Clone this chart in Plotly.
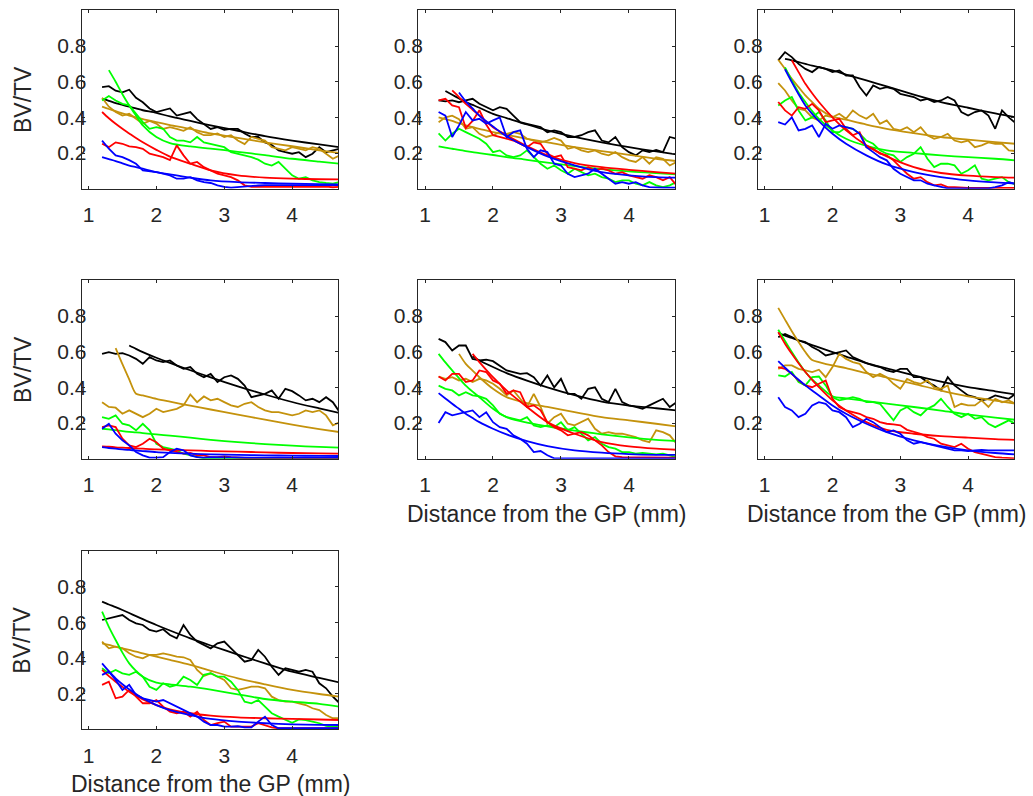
import plotly.graph_objects as go

# ---------------- data ----------------
X = [1.2, 1.3, 1.4, 1.5, 1.6, 1.7, 1.8, 1.9, 2.0, 2.1, 2.2, 2.3, 2.4, 2.5, 2.6, 2.7, 2.8, 2.9,
     3.0, 3.1, 3.2, 3.3, 3.4, 3.5, 3.6, 3.7, 3.8, 3.9, 4.0, 4.1, 4.2, 4.3, 4.4, 4.5, 4.6, 4.7]
FX = [1.2, 1.3, 1.4, 1.5, 1.6, 1.7, 1.8, 2.0, 2.2, 2.5, 2.8, 3.2, 3.6, 4.0, 4.4, 4.7]
X_TICKS = [1, 2, 3, 4]
Y_TICKS = [0.2, 0.4, 0.6, 0.8]
Y_LABEL = "BV/TV"
X_LABEL = "Distance from the GP (mm)"

# panel 1
P1_BLACK = [0.57, 0.575, 0.55, 0.54, 0.555, 0.51, 0.485, 0.45, 0.43, 0.44, 0.45, 0.41, 0.42, 0.43, 0.39, 0.365, 0.335, 0.345,
            0.33, 0.335, 0.335, 0.31, 0.29, 0.29, 0.26, 0.245, 0.215, 0.205, 0.196, 0.205, 0.177, 0.196, 0.233, 0.205, 0.215, 0.224]
P1_GOLD = [0.51, 0.46, 0.43, 0.41, 0.42, 0.39, 0.365, 0.38, 0.365, 0.335, 0.345, 0.335, 0.325, 0.345, 0.317, 0.3, 0.3, 0.31,
           0.29, 0.3, 0.27, 0.25, 0.29, 0.28, 0.27, 0.233, 0.224, 0.215, 0.233, 0.224, 0.215, 0.233, 0.224, 0.196, 0.168, 0.187]
P1_GREEN = [0.495, 0.52, 0.495, 0.476, 0.467, 0.42, 0.373, 0.336, 0.345, 0.336, 0.29, 0.27, 0.27, 0.26, 0.29, 0.26, 0.25, 0.243,
            0.233, 0.205, 0.196, 0.187, 0.177, 0.163, 0.14, 0.13, 0.15, 0.112, 0.075, 0.056, 0.065, 0.047, 0.037, 0.032, 0.028, 0.037]
P1_RED = [0.252, 0.233, 0.26, 0.252, 0.237, 0.233, 0.224, 0.196, 0.187, 0.177, 0.16, 0.243, 0.187, 0.14, 0.15, 0.121, 0.103, 0.084,
          0.075, 0.065, 0.047, 0.019, 0.01, 0.01, 0.008, 0.01, 0.008, 0.006, 0.008, 0.01, 0.008, 0.006, 0.01, 0.012, 0.008, 0.01]
P1_BLUE = [0.27, 0.224, 0.187, 0.177, 0.16, 0.14, 0.103, 0.1, 0.093, 0.084, 0.075, 0.056, 0.056, 0.065, 0.047, 0.037, 0.032, 0.019,
           0.01, 0.006, 0.01, 0.012, 0.015, 0.018, 0.02, 0.02, 0.02, 0.022, 0.02, 0.02, 0.022, 0.02, 0.02, 0.02, 0.022, 0.02]
P1_BLACK_FIT = [0.505, 0.493, 0.48, 0.47, 0.46, 0.45, 0.44, 0.425, 0.405, 0.38, 0.355, 0.325, 0.295, 0.27, 0.248, 0.233]
P1_GOLD_FIT = [0.46, 0.447, 0.435, 0.422, 0.41, 0.4, 0.39, 0.373, 0.357, 0.335, 0.31, 0.285, 0.26, 0.238, 0.215, 0.2]
P1_GREEN_FIT = [None, 0.665, 0.6, 0.53, 0.467, 0.41, 0.355, 0.29, 0.256, 0.237, 0.225, 0.207, 0.188, 0.168, 0.152, 0.14]
P1_RED_FIT = [0.43, 0.395, 0.364, 0.336, 0.31, 0.284, 0.26, 0.218, 0.18, 0.14, 0.103, 0.075, 0.062, 0.056, 0.053, 0.052]
P1_BLUE_FIT = [0.177, 0.166, 0.155, 0.142, 0.13, 0.121, 0.112, 0.093, 0.08, 0.062, 0.047, 0.037, 0.032, 0.028, 0.026, 0.024]

# panel 2
P2_BLACK = [0.495, 0.49, 0.495, 0.485, 0.495, 0.504, 0.476, 0.457, 0.44, 0.457, 0.448, 0.41, 0.373, 0.364, 0.355, 0.345, 0.317, 0.327,
            0.317, 0.29, 0.29, 0.3, 0.317, 0.327, 0.27, 0.26, 0.29, 0.233, 0.205, 0.187, 0.215, 0.205, 0.218, 0.205, 0.29, 0.28]
P2_GOLD = [0.373, 0.4, 0.41, 0.39, 0.336, 0.345, 0.308, 0.29, 0.3, 0.317, 0.308, 0.317, 0.308, 0.28, 0.27, 0.26, 0.27, 0.285,
           0.27, 0.224, 0.233, 0.215, 0.205, 0.215, 0.196, 0.187, 0.205, 0.177, 0.159, 0.15, 0.177, 0.14, 0.177, 0.168, 0.13, 0.15]
P2_GREEN = [0.31, 0.27, 0.308, 0.336, 0.317, 0.3, 0.28, 0.252, 0.205, 0.215, 0.187, 0.177, 0.187, 0.215, 0.177, 0.14, 0.112, 0.13,
            0.103, 0.084, 0.112, 0.093, 0.075, 0.084, 0.065, 0.056, 0.037, 0.047, 0.047, 0.028, 0.019, 0.037, 0.019, 0.009, 0.019, 0.037]
P2_RED = [0.495, 0.504, 0.467, 0.457, 0.34, 0.38, 0.44, 0.36, 0.3, 0.29, 0.28, 0.27, 0.252, 0.233, 0.26, 0.252, 0.196, 0.177,
          0.187, 0.121, 0.112, 0.103, 0.121, 0.103, 0.112, 0.103, 0.084, 0.093, 0.075, 0.065, 0.056, 0.075, 0.065, 0.047, 0.065, 0.019]
P2_BLUE = [0.43, 0.41, 0.29, 0.355, 0.43, 0.383, 0.392, 0.364, 0.383, 0.4, 0.29, 0.317, 0.327, 0.224, 0.177, 0.215, 0.205, 0.14,
           0.13, 0.084, 0.065, 0.075, 0.084, 0.112, 0.084, 0.056, 0.028, 0.037, 0.028, 0.037, 0.019, 0.009, 0.006, 0.006, 0.006, 0.006]
P2_BLACK_FIT = [None, 0.548, 0.527, 0.506, 0.486, 0.47, 0.454, 0.42, 0.396, 0.36, 0.327, 0.29, 0.26, 0.233, 0.209, 0.192]
P2_GOLD_FIT = [0.4, 0.39, 0.38, 0.367, 0.355, 0.345, 0.336, 0.317, 0.302, 0.28, 0.26, 0.233, 0.211, 0.19, 0.168, 0.155]
P2_GREEN_FIT = [0.237, 0.23, 0.224, 0.218, 0.211, 0.205, 0.2, 0.189, 0.177, 0.162, 0.146, 0.127, 0.11, 0.097, 0.088, 0.08]
P2_RED_FIT = [None, None, 0.551, 0.514, 0.476, 0.443, 0.41, 0.345, 0.3, 0.239, 0.187, 0.144, 0.121, 0.106, 0.093, 0.084]
P2_BLUE_FIT = [None, None, None, 0.54, 0.49, 0.45, 0.41, 0.349, 0.293, 0.233, 0.181, 0.131, 0.093, 0.075, 0.065, 0.062]

# panel 3
P3_BLACK = [0.72, 0.766, 0.738, 0.7, 0.672, 0.654, 0.682, 0.672, 0.654, 0.663, 0.635, 0.635, 0.57, 0.523, 0.579, 0.56, 0.57, 0.56,
            0.532, 0.523, 0.514, 0.495, 0.504, 0.486, 0.495, 0.514, 0.495, 0.43, 0.41, 0.43, 0.439, 0.41, 0.336, 0.439, 0.4, 0.368]
P3_GOLD = [0.592, 0.551, 0.495, 0.448, 0.439, 0.4, 0.383, 0.41, 0.4, 0.42, 0.392, 0.439, 0.41, 0.392, 0.42, 0.364, 0.383, 0.336,
           0.327, 0.345, 0.317, 0.345, 0.3, 0.28, 0.29, 0.308, 0.27, 0.26, 0.27, 0.233, 0.243, 0.26, 0.252, 0.252, 0.215, 0.211]
P3_GREEN = [0.467, 0.495, 0.514, 0.439, 0.383, 0.4, 0.43, 0.383, 0.317, 0.317, 0.345, 0.336, 0.308, 0.27, 0.252, 0.215, 0.196, 0.187,
            0.15, 0.177, 0.196, 0.233, 0.168, 0.121, 0.14, 0.14, 0.131, 0.084, 0.103, 0.131, 0.056, 0.047, 0.056, 0.065, 0.037, 0.024]
P3_RED = [0.486, 0.439, 0.41, 0.457, 0.448, 0.476, 0.439, 0.373, 0.383, 0.392, 0.336, 0.3, 0.317, 0.233, 0.224, 0.196, 0.187, 0.159,
          0.121, 0.084, 0.056, 0.065, 0.037, 0.019, 0.024, 0.009, 0.009, 0.006, 0.005, 0.005, 0.005, 0.005, 0.005, 0.005, 0.005, 0.005]
P3_BLUE = [0.373, 0.36, 0.4, 0.327, 0.336, 0.355, 0.29, 0.364, 0.336, 0.355, 0.345, 0.336, 0.308, 0.233, 0.205, 0.177, 0.159, 0.112,
           0.084, 0.065, 0.047, 0.047, 0.028, 0.019, 0.009, 0.002, 0.002, 0.002, 0.002, 0.002, 0.002, 0.002, 0.009, 0.019, 0.037, 0.028]
P3_BLACK_FIT = [None, 0.728, 0.72, 0.71, 0.7, 0.69, 0.682, 0.663, 0.64, 0.607, 0.574, 0.528, 0.486, 0.454, 0.422, 0.401]
P3_GOLD_FIT = [0.723, 0.672, 0.616, 0.57, 0.523, 0.486, 0.448, 0.405, 0.387, 0.36, 0.336, 0.312, 0.29, 0.275, 0.261, 0.252]
P3_GREEN_FIT = [None, 0.68, 0.607, 0.54, 0.486, 0.435, 0.392, 0.327, 0.28, 0.24, 0.215, 0.2, 0.187, 0.177, 0.168, 0.159]
P3_RED_FIT = [None, None, 0.72, 0.654, 0.588, 0.535, 0.486, 0.4, 0.327, 0.243, 0.181, 0.121, 0.088, 0.073, 0.065, 0.062]
P3_BLUE_FIT = [None, 0.67, 0.598, 0.53, 0.467, 0.42, 0.379, 0.308, 0.252, 0.187, 0.136, 0.093, 0.065, 0.047, 0.035, 0.028]

# panel 4
P4_BLACK = [0.588, 0.598, 0.588, 0.592, 0.579, 0.56, 0.532, 0.57, 0.551, 0.542, 0.551, 0.523, 0.504, 0.514, 0.476, 0.457, 0.476, 0.43,
            0.457, 0.467, 0.448, 0.41, 0.345, 0.355, 0.364, 0.383, 0.336, 0.392, 0.379, 0.355, 0.327, 0.336, 0.317, 0.345, 0.317, 0.261]
P4_GOLD = [0.317, 0.29, 0.286, 0.252, 0.271, 0.252, 0.233, 0.252, 0.28, 0.261, 0.271, 0.28, 0.299, 0.36, 0.317, 0.349, 0.327, 0.336,
           0.317, 0.299, 0.29, 0.308, 0.317, 0.29, 0.271, 0.261, 0.261, 0.252, 0.243, 0.252, 0.271, 0.261, 0.271, 0.243, 0.187, 0.205]
P4_GREEN = [0.233, 0.224, 0.243, 0.196, 0.187, 0.159, 0.196, 0.159, 0.084, 0.065, 0.056, 0.047, 0.028, 0.019, 0.009, 0.002, 0.002, 0.002,
            0.002, 0.002, 0.002, 0.002, 0.002, 0.002, 0.002, 0.002, 0.002, 0.002, 0.002, 0.002, 0.002, 0.002, 0.002, 0.002, 0.002, 0.002]
P4_RED = [0.177, 0.187, 0.177, 0.112, 0.075, 0.065, 0.084, 0.112, 0.093, 0.056, 0.047, 0.037, 0.028, 0.032, 0.019, 0.019, 0.009, 0.009,
          0.013, 0.009, 0.005, 0.005, 0.005, 0.005, 0.005, 0.005, 0.005, 0.005, 0.005, 0.005, 0.005, 0.005, 0.005, 0.005, 0.005, 0.005]
P4_BLUE = [0.168, 0.196, 0.14, 0.103, 0.075, 0.037, 0.019, 0.006, 0.006, 0.009, 0.037, 0.056, 0.047, 0.019, 0.009, 0.006, 0.009, 0.008,
           0.006, 0.006, 0.006, 0.006, 0.006, 0.006, 0.006, 0.006, 0.006, 0.006, 0.006, 0.006, 0.006, 0.006, 0.006, 0.006, 0.006, 0.006]
P4_BLACK_FIT = [None, None, None, None, 0.635, 0.616, 0.598, 0.566, 0.537, 0.496, 0.456, 0.406, 0.36, 0.318, 0.282, 0.256]
P4_GOLD_FIT = [None, None, 0.62, 0.53, 0.445, 0.364, 0.355, 0.336, 0.32, 0.297, 0.276, 0.247, 0.219, 0.191, 0.166, 0.149]
P4_GREEN_FIT = [0.168, 0.164, 0.16, 0.155, 0.151, 0.148, 0.144, 0.136, 0.129, 0.118, 0.106, 0.093, 0.082, 0.073, 0.066, 0.062]
P4_RED_FIT = [0.069, 0.067, 0.064, 0.062, 0.06, 0.058, 0.056, 0.052, 0.05, 0.047, 0.043, 0.04, 0.035, 0.032, 0.03, 0.028]
P4_BLUE_FIT = [0.065, 0.06, 0.056, 0.052, 0.049, 0.046, 0.043, 0.037, 0.033, 0.028, 0.024, 0.021, 0.019, 0.017, 0.016, 0.015]

# panel 5
P5_BLACK = [0.672, 0.654, 0.607, 0.635, 0.635, 0.56, 0.551, 0.555, 0.547, 0.523, 0.495, 0.486, 0.476, 0.48, 0.457, 0.41, 0.467, 0.4,
            0.448, 0.364, 0.364, 0.336, 0.392, 0.4, 0.336, 0.317, 0.392, 0.317, 0.299, 0.29, 0.28, 0.299, 0.317, 0.336, 0.29, 0.317]
P5_GOLD = [0.461, 0.448, 0.457, 0.439, 0.448, 0.43, 0.448, 0.439, 0.42, 0.392, 0.355, 0.383, 0.336, 0.29, 0.364, 0.29, 0.196, 0.233,
           0.252, 0.196, 0.187, 0.205, 0.224, 0.168, 0.14, 0.149, 0.14, 0.14, 0.131, 0.121, 0.103, 0.093, 0.159, 0.149, 0.131, 0.084]
P5_GREEN = [0.41, 0.392, 0.383, 0.355, 0.373, 0.355, 0.349, 0.336, 0.299, 0.252, 0.233, 0.224, 0.215, 0.233, 0.187, 0.177, 0.187, 0.177,
            0.205, 0.159, 0.177, 0.14, 0.103, 0.121, 0.084, 0.065, 0.056, 0.037, 0.037, 0.028, 0.032, 0.028, 0.024, 0.028, 0.019, 0.009]
P5_RED = [0.461, 0.439, 0.476, 0.476, 0.43, 0.439, 0.495, 0.486, 0.439, 0.42, 0.364, 0.383, 0.373, 0.29, 0.299, 0.271, 0.205, 0.177,
          0.159, 0.131, 0.14, 0.149, 0.131, 0.103, 0.075, 0.037, 0.013, 0.009, 0.009, 0.006, 0.006, 0.006, 0.006, 0.006, 0.006, 0.006]
P5_BLUE = [0.2, 0.261, 0.243, 0.252, 0.261, 0.271, 0.233, 0.261, 0.205, 0.177, 0.168, 0.131, 0.112, 0.084, 0.037, 0.043, 0.019, 0.002,
           0.002, 0.002, 0.002, 0.002, 0.002, 0.002, 0.002, 0.002, 0.002, 0.002, 0.002, 0.002, 0.002, 0.002, 0.002, 0.002, 0.002, 0.002]
P5_BLACK_FIT = [None, None, None, None, None, 0.575, 0.551, 0.514, 0.48, 0.438, 0.4, 0.356, 0.32, 0.298, 0.283, 0.271]
P5_GOLD_FIT = [None, None, None, 0.588, 0.532, 0.494, 0.457, 0.392, 0.345, 0.312, 0.29, 0.261, 0.233, 0.215, 0.196, 0.181]
P5_GREEN_FIT = [0.588, 0.54, 0.495, 0.452, 0.41, 0.376, 0.345, 0.28, 0.233, 0.203, 0.182, 0.157, 0.137, 0.12, 0.106, 0.099]
P5_RED_FIT = [None, None, None, None, None, 0.588, 0.542, 0.457, 0.383, 0.29, 0.205, 0.14, 0.093, 0.069, 0.056, 0.05]
P5_BLUE_FIT = [0.368, 0.338, 0.308, 0.28, 0.252, 0.228, 0.205, 0.168, 0.136, 0.099, 0.071, 0.047, 0.034, 0.026, 0.022, 0.021]

# panel 6
P6_BLACK = [0.682, 0.7, 0.682, 0.663, 0.654, 0.626, 0.607, 0.579, 0.588, 0.598, 0.607, 0.57, 0.551, 0.536, 0.523, 0.514, 0.495, 0.486,
            0.504, 0.504, 0.457, 0.457, 0.43, 0.411, 0.383, 0.457, 0.411, 0.383, 0.355, 0.345, 0.327, 0.336, 0.355, 0.345, 0.336, 0.364]
P6_GOLD = [0.504, 0.523, 0.523, 0.504, 0.495, 0.486, 0.499, 0.457, 0.514, 0.588, 0.56, 0.542, 0.532, 0.486, 0.457, 0.476, 0.457, 0.42,
           0.392, 0.448, 0.43, 0.42, 0.439, 0.4, 0.392, 0.411, 0.29, 0.308, 0.299, 0.299, 0.327, 0.29, 0.336, 0.317, 0.327, 0.308]
P6_GREEN = [0.467, 0.461, 0.486, 0.43, 0.411, 0.457, 0.461, 0.411, 0.345, 0.327, 0.336, 0.345, 0.336, 0.317, 0.317, 0.308, 0.261, 0.215,
            0.271, 0.29, 0.261, 0.243, 0.28, 0.299, 0.336, 0.29, 0.252, 0.233, 0.252, 0.224, 0.233, 0.196, 0.177, 0.196, 0.215, 0.196]
P6_RED = [0.514, 0.504, 0.476, 0.439, 0.411, 0.401, 0.42, 0.439, 0.336, 0.29, 0.271, 0.261, 0.252, 0.233, 0.224, 0.205, 0.196, 0.192,
          0.187, 0.162, 0.149, 0.14, 0.121, 0.112, 0.084, 0.075, 0.065, 0.084, 0.056, 0.037, 0.028, 0.019, 0.009, 0.006, 0.003, 0.002]
P6_BLUE = [0.345, 0.29, 0.271, 0.233, 0.252, 0.299, 0.317, 0.308, 0.271, 0.261, 0.233, 0.177, 0.196, 0.224, 0.205, 0.177, 0.149, 0.159,
           0.14, 0.103, 0.084, 0.093, 0.084, 0.075, 0.065, 0.056, 0.047, 0.047, 0.043, 0.047, 0.05, 0.047, 0.047, 0.047, 0.05, 0.047]
P6_BLACK_FIT = [0.704, 0.69, 0.677, 0.663, 0.65, 0.637, 0.624, 0.598, 0.573, 0.536, 0.506, 0.467, 0.432, 0.401, 0.378, 0.36]
P6_GOLD_FIT = [0.846, 0.78, 0.715, 0.655, 0.598, 0.553, 0.542, 0.523, 0.508, 0.48, 0.455, 0.42, 0.382, 0.35, 0.326, 0.308]
P6_GREEN_FIT = [0.723, 0.66, 0.598, 0.54, 0.486, 0.445, 0.411, 0.35, 0.338, 0.323, 0.309, 0.29, 0.27, 0.248, 0.23, 0.218]
P6_RED_FIT = [0.71, 0.645, 0.588, 0.535, 0.486, 0.442, 0.401, 0.327, 0.271, 0.205, 0.162, 0.14, 0.127, 0.118, 0.11, 0.106]
P6_BLUE_FIT = [0.547, 0.51, 0.476, 0.443, 0.411, 0.382, 0.355, 0.299, 0.252, 0.196, 0.149, 0.103, 0.071, 0.047, 0.032, 0.024]

# panel 7
P7_BLACK = [0.613, 0.622, 0.632, 0.641, 0.613, 0.594, 0.585, 0.557, 0.548, 0.561, 0.529, 0.51, 0.585, 0.529, 0.492, 0.473, 0.454, 0.482,
            0.492, 0.454, 0.417, 0.379, 0.389, 0.445, 0.407, 0.351, 0.305, 0.342, 0.333, 0.323, 0.333, 0.323, 0.258, 0.23, 0.183, 0.146]
P7_GOLD = [0.492, 0.454, 0.464, 0.454, 0.426, 0.407, 0.398, 0.417, 0.417, 0.426, 0.417, 0.407, 0.404, 0.389, 0.333, 0.299, 0.314, 0.295,
           0.277, 0.23, 0.221, 0.23, 0.239, 0.239, 0.23, 0.183, 0.164, 0.155, 0.155, 0.146, 0.136, 0.118, 0.108, 0.08, 0.062, 0.062]
P7_GREEN = [0.342, 0.314, 0.333, 0.314, 0.305, 0.323, 0.295, 0.239, 0.221, 0.258, 0.239, 0.249, 0.295, 0.277, 0.249, 0.305, 0.314, 0.295,
            0.295, 0.267, 0.221, 0.155, 0.146, 0.164, 0.127, 0.09, 0.071, 0.052, 0.037, 0.056, 0.052, 0.043, 0.034, 0.019, 0.015, 0.011]
P7_RED = [0.249, 0.267, 0.174, 0.183, 0.221, 0.183, 0.146, 0.146, 0.164, 0.127, 0.099, 0.09, 0.099, 0.071, 0.099, 0.052, 0.024, 0.034,
          0.043, 0.015, 0.015, 0.019, 0.015, 0.034, 0.024, 0.011, 0.006, 0.006, 0.006, 0.006, 0.006, 0.006, 0.006, 0.006, 0.006, 0.006]
P7_BLUE = [0.305, 0.323, 0.277, 0.221, 0.249, 0.193, 0.174, 0.164, 0.155, 0.164, 0.146, 0.127, 0.108, 0.09, 0.071, 0.043, 0.024, 0.024,
           0.015, 0.015, 0.017, 0.011, 0.011, 0.043, 0.071, 0.024, 0.006, 0.006, 0.006, 0.006, 0.006, 0.006, 0.006, 0.006, 0.006, 0.006]
P7_BLACK_FIT = [0.716, 0.7, 0.685, 0.669, 0.652, 0.635, 0.618, 0.585, 0.554, 0.51, 0.47, 0.419, 0.37, 0.323, 0.288, 0.262]
P7_GOLD_FIT = [0.482, 0.473, 0.463, 0.454, 0.445, 0.435, 0.426, 0.407, 0.389, 0.361, 0.328, 0.286, 0.252, 0.221, 0.198, 0.183]
P7_GREEN_FIT = [0.66, 0.575, 0.501, 0.43, 0.37, 0.328, 0.295, 0.262, 0.252, 0.239, 0.222, 0.196, 0.17, 0.155, 0.143, 0.127]
P7_RED_FIT = [0.333, 0.298, 0.267, 0.238, 0.211, 0.188, 0.168, 0.136, 0.112, 0.09, 0.077, 0.067, 0.062, 0.058, 0.055, 0.052]
P7_BLUE_FIT = [0.37, 0.326, 0.286, 0.253, 0.224, 0.198, 0.174, 0.136, 0.108, 0.08, 0.058, 0.043, 0.034, 0.028, 0.025, 0.024]

COLORS = {"black": "#000000", "gold": "rgb(196,146,12)", "green": "#00ff00", "red": "#ff0000", "blue": "#0000ff"}

PANELS = [
    [("black", P1_BLACK, P1_BLACK_FIT), ("gold", P1_GOLD, P1_GOLD_FIT), ("green", P1_GREEN, P1_GREEN_FIT),
     ("red", P1_RED, P1_RED_FIT), ("blue", P1_BLUE, P1_BLUE_FIT)],
    [("black", P2_BLACK, P2_BLACK_FIT), ("gold", P2_GOLD, P2_GOLD_FIT), ("green", P2_GREEN, P2_GREEN_FIT),
     ("red", P2_RED, P2_RED_FIT), ("blue", P2_BLUE, P2_BLUE_FIT)],
    [("black", P3_BLACK, P3_BLACK_FIT), ("gold", P3_GOLD, P3_GOLD_FIT), ("green", P3_GREEN, P3_GREEN_FIT),
     ("red", P3_RED, P3_RED_FIT), ("blue", P3_BLUE, P3_BLUE_FIT)],
    [("black", P4_BLACK, P4_BLACK_FIT), ("gold", P4_GOLD, P4_GOLD_FIT), ("green", P4_GREEN, P4_GREEN_FIT),
     ("red", P4_RED, P4_RED_FIT), ("blue", P4_BLUE, P4_BLUE_FIT)],
    [("black", P5_BLACK, P5_BLACK_FIT), ("gold", P5_GOLD, P5_GOLD_FIT), ("green", P5_GREEN, P5_GREEN_FIT),
     ("red", P5_RED, P5_RED_FIT), ("blue", P5_BLUE, P5_BLUE_FIT)],
    [("black", P6_BLACK, P6_BLACK_FIT), ("gold", P6_GOLD, P6_GOLD_FIT), ("green", P6_GREEN, P6_GREEN_FIT),
     ("red", P6_RED, P6_RED_FIT), ("blue", P6_BLUE, P6_BLUE_FIT)],
    [("black", P7_BLACK, P7_BLACK_FIT), ("gold", P7_GOLD, P7_GOLD_FIT), ("green", P7_GREEN, P7_GREEN_FIT),
     ("red", P7_RED, P7_RED_FIT), ("blue", P7_BLUE, P7_BLUE_FIT)],
]

# ---------------- layout geometry (pixels) ----------------
W, H = 1033, 796
COL_PX = [(81.7, 338.3), (418.2, 675.2), (757.9, 1014.2)]
ROW_PX = [(10.4, 188.7), (280.4, 458.7), (551.0, 729.3)]
FONT = "Liberation Sans, Arial, Helvetica, sans-serif"
AX_COL = "#262626"

fig = go.Figure()
layout = dict(width=W, height=H, margin=dict(l=0, r=0, t=0, b=0),
              paper_bgcolor="white", plot_bgcolor="white", showlegend=False,
              font=dict(family=FONT, color=AX_COL))
annotations = []

for i, series in enumerate(PANELS):
    r, c = divmod(i, 3)
    n = i + 1
    xs = "" if n == 1 else str(n)
    x0, x1 = COL_PX[c]
    y0, y1 = ROW_PX[r]
    common = dict(showline=True, linecolor=AX_COL, linewidth=1, mirror="ticks",
                  ticks="inside", ticklen=3, tickwidth=1, tickcolor=AX_COL,
                  showgrid=False, zeroline=False, fixedrange=True,
                  tickfont=dict(family=FONT, size=21, color=AX_COL))
    layout["xaxis" + xs] = dict(domain=[x0 / W, x1 / W], range=[0.9, 4.68], tickvals=X_TICKS,
                                anchor="y" + xs, ticklabelstandoff=7, **common)
    layout["yaxis" + xs] = dict(domain=[1 - y1 / H, 1 - y0 / H], range=[0, 1], tickvals=Y_TICKS,
                                ticktext=[f"{v:.1f}" for v in Y_TICKS],
                                anchor="x" + xs, ticklabelposition="outside",
                                ticklabelstandoff=-10, **common)
    for name, noisy, fit in series:
        col = COLORS[name]
        fig.add_trace(go.Scatter(x=X[:len(noisy)], y=noisy, mode="lines",
                                 line=dict(color=col, width=1.8),
                                 xaxis="x" + xs, yaxis="y" + xs, hoverinfo="skip"))
        fig.add_trace(go.Scatter(x=FX, y=fit, mode="lines",
                                 line=dict(color=col, width=1.8, shape="spline", smoothing=0.8),
                                 xaxis="x" + xs, yaxis="y" + xs, hoverinfo="skip"))
    if c == 0:
        annotations.append(dict(text=Y_LABEL, xref="paper", yref="paper", x=22.5 / W,
                                y=1 - (y0 + y1) / 2 / H, textangle=-90, showarrow=False,
                                xanchor="center", yanchor="middle",
                                font=dict(family=FONT, size=23, color=AX_COL)))
    if i + 3 >= len(PANELS):
        annotations.append(dict(text=X_LABEL, xref="paper", yref="paper", x=(x0 + x1) / 2 / W,
                                y=1 - (y1 + 55) / H, showarrow=False,
                                xanchor="center", yanchor="middle",
                                font=dict(family=FONT, size=23, color=AX_COL)))

layout["annotations"] = annotations
fig.update_layout(**layout)
fig.write_html("out.html")
